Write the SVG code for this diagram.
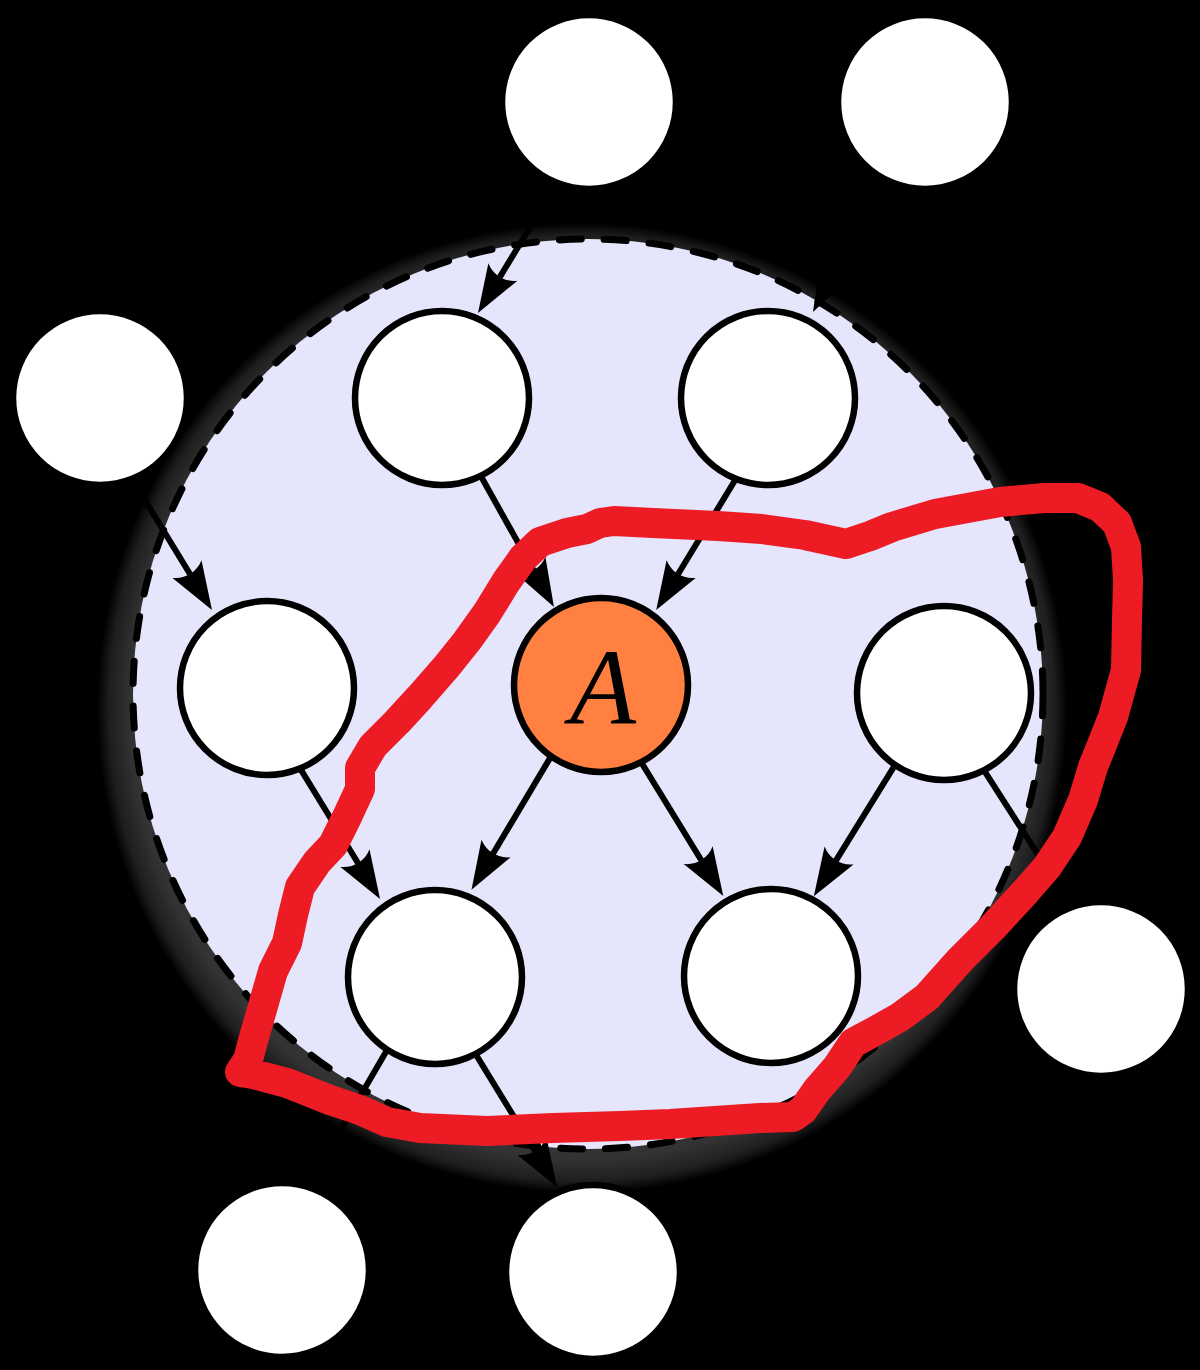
<svg xmlns="http://www.w3.org/2000/svg" width="1200" height="1370" viewBox="0 0 1200 1370">
<style>
.edge{stroke:#000;stroke-width:6;fill:none;marker-end:url(#arr)}
.node{fill:#fff;stroke:#000;stroke-width:6.5}
.hl{fill:#ff8040;stroke:#000;stroke-width:6.5}
.lbl{font-family:"Liberation Serif","DejaVu Serif",serif;font-style:italic;font-size:108px;fill:#000}
</style>
<defs>
<radialGradient id="glow" cx="582" cy="708" r="485" gradientUnits="userSpaceOnUse">
<stop offset="0" stop-color="#383838"/>
<stop offset="0.93" stop-color="#333333"/>
<stop offset="0.975" stop-color="#1e1e1e"/>
<stop offset="1" stop-color="#000"/>
</radialGradient>
<marker id="arr" markerUnits="userSpaceOnUse" markerWidth="60" markerHeight="40" viewBox="-10 -20 60 40" refX="0" refY="0" orient="auto" overflow="visible">
<path d="M42,0 L-6,-17 C1.7,-7 1.7,7 -6,17 Z" fill="#000"/>
</marker>
</defs>
<rect x="0" y="0" width="1200" height="1370" fill="#000"/>
<g id="neighbourhood">
<circle cx="582" cy="708" r="485" fill="url(#glow)"/>
<circle cx="588" cy="694" r="455" fill="#e5e5fb" stroke="#000" stroke-width="7" stroke-dasharray="22 23" stroke-linecap="round"/>
</g>
<g id="connectors">
<line class="edge" x1="560" y1="178" x2="499.8" y2="277.1"/>
<line class="edge" x1="925" y1="102" x2="832.7" y2="275"/>
<line class="edge" x1="97.4" y1="422.3" x2="190.1" y2="574.2"/>
<line class="edge" x1="437.3" y1="398" x2="533.5" y2="570.4"/>
<line class="edge" x1="785" y1="398" x2="678" y2="574.2"/>
<line class="edge" x1="254.7" y1="694.2" x2="358.1" y2="863.2"/>
<line class="edge" x1="595" y1="682.6" x2="493" y2="853.7"/>
<line class="edge" x1="603" y1="700" x2="701.3" y2="860.2"/>
<line class="edge" x1="922.8" y1="720" x2="835.9" y2="860.6"/>
<line class="edge" x1="954.6" y1="724.5" x2="1047.5" y2="869.3"/>
<line class="edge" x1="413.2" y1="1005.2" x2="330.1" y2="1147.7"/>
<line class="edge" x1="446.7" y1="1006.8" x2="535.1" y2="1151.2"/>
</g>
<g id="n1"><circle class="node" cx="589" cy="102" r="87"/></g>
<g id="n2"><circle class="node" cx="925" cy="102" r="87"/></g>
<g id="n3"><circle class="node" cx="100" cy="398" r="87"/></g>
<g id="n4"><circle class="node" cx="442" cy="398" r="87"/></g>
<g id="n5"><circle class="node" cx="768" cy="398" r="87"/></g>
<g id="n6"><circle class="node" cx="267" cy="688" r="87"/></g>
<g id="nA"><circle class="hl" cx="601" cy="685" r="87"/><text class="lbl" x="603" y="724" text-anchor="middle">A</text></g>
<g id="n7"><circle class="node" cx="944" cy="693" r="87"/></g>
<g id="n8"><circle class="node" cx="435" cy="977" r="87"/></g>
<g id="n9"><circle class="node" cx="771" cy="976" r="87"/></g>
<g id="n10"><circle class="node" cx="1101" cy="989" r="87"/></g>
<g id="n11"><circle class="node" cx="282" cy="1270" r="87"/></g>
<g id="n12"><circle class="node" cx="593" cy="1272" r="87"/></g>
<g id="outline">
<path d="M240,1072 L248,1060 L253,1041 L263,1006 L273,971 L287,943 L293,915 L300,887 L317,862 L333,845 L347,817 L360,789 L360,768 L373,746 L397,722 L420,697 L447,666 L467,641 L487,613 L506,582 L523,558 L540,542 L567,533 L587,529 L600,523 L614,521 L653,523 L718,526 L762,529 L805,535 L846,544 L870,536 L892,527 L935,514 L1000,502 L1044,498 L1078,498 L1100,507 L1117,523 L1126,547 L1128,580 L1127,620 L1126,670 L1113,717 L1093,767 L1083,800 L1067,837 L1047,867 L1027,890 L993,927 L960,960 L927,997 L900,1017 L877,1030 L853,1043 L837,1067 L817,1090 L803,1110 L793,1117 L760,1118 L670,1124 L620,1126 L553,1128 L487,1131 L420,1128 L387,1122 L360,1110 L330,1100 L287,1083 L253,1074 Z" fill="none" stroke="#ed1c24" stroke-width="30" stroke-linejoin="round" stroke-linecap="round"/>
</g>
</svg>
